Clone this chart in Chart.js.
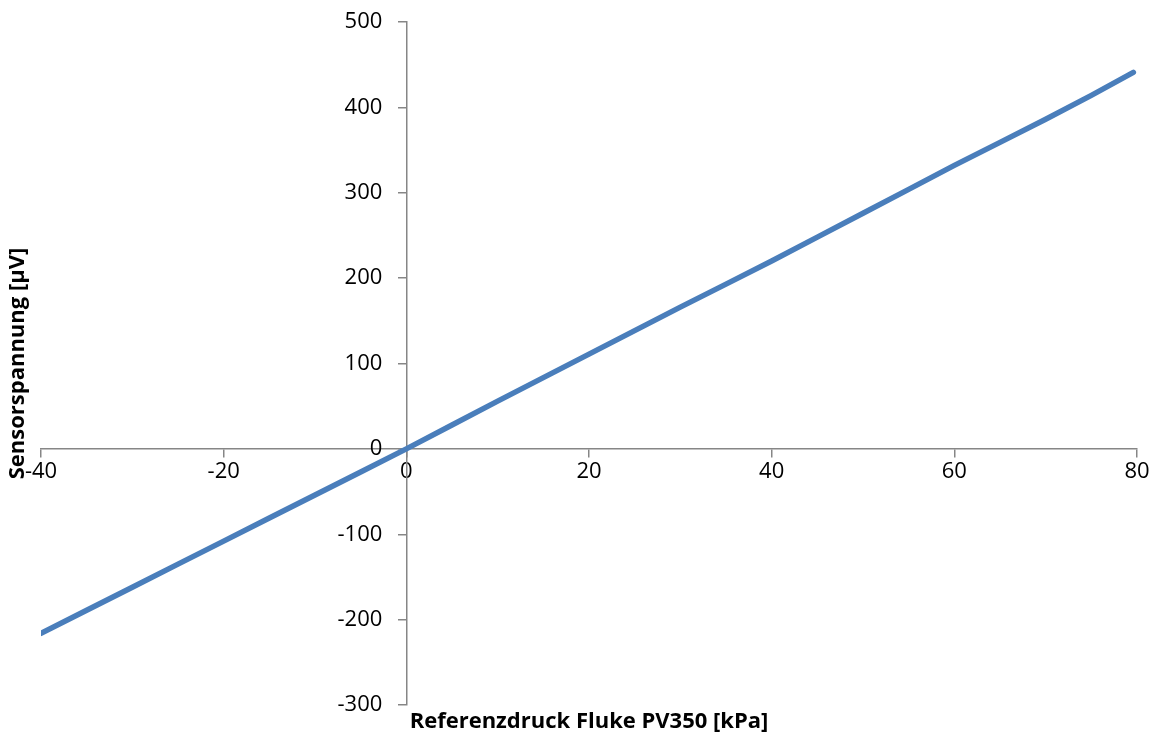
<!DOCTYPE html>
<html>
<head>
<meta charset="utf-8">
<script src="https://cdn.jsdelivr.net/npm/chart.js@4/dist/chart.umd.min.js"></script>
<style>
  html, body { margin: 0; padding: 0; background: #fff; }
  #wrap { width: 1159px; height: 738px; }
</style>
</head>
<body>
<div id="wrap"><canvas id="kennlinie"></canvas></div>
<script>
// Messwerte: Referenzdruck [kPa] gegen Sensorspannung [µV]
var druck = [-40, -35, -30, -25, -20, -15, -10, -5, 0, 5, 10, 15, 20, 25, 30, 35, 40, 45, 50, 55, 60, 65, 70, 75, 79.6];
var spannung = [-216, -189, -162, -135, -108, -81, -54, -27, 0, 28, 56, 83.5, 111, 138.5, 166, 193, 220, 248, 276, 304, 332, 359, 386, 414, 441];

var xTicks = [-40, -20, 0, 20, 40, 60, 80];
var yTicks = [-300, -200, -100, 0, 100, 200, 300, 400, 500];

var punkte = druck.map(function (d, i) { return { x: d, y: spannung[i] }; });

var achsenFarbe = '#868686';
var tickFont = { family: 'Open Sans', size: 22, lineHeight: 1 };
var titelFont = { family: 'Open Sans', size: 22, weight: 'bold', lineHeight: 1.2 };

// y-Beschriftung links neben die Achse schieben (Achse liegt bei x = 0)
function yLabelsVersetzen(axis) {
  if (axis._versetzt) return;
  var orig = axis._computeLabelItems;
  axis._computeLabelItems = function (area) {
    var items = orig.call(this, area);
    items.forEach(function (it) { it.options.translation[0] -= 24; });
    return items;
  };
  axis._versetzt = true;
}

var ctx = document.getElementById('kennlinie');

new Chart(ctx, {
  type: 'scatter',
  data: {
    datasets: [{
      label: 'Sensorspannung',
      data: punkte,
      showLine: true,
      borderColor: '#4a7ebb',
      backgroundColor: '#4a7ebb',
      borderWidth: 5.5,
      borderCapStyle: 'round',
      borderJoinStyle: 'round',
      pointRadius: 0,
      tension: 0
    }]
  },
  options: {
    responsive: true,
    maintainAspectRatio: false,
    animation: false,
    layout: { padding: { top: 22, right: 22, bottom: 0, left: 0 } },
    plugins: {
      legend: { display: false },
      tooltip: { enabled: false },
      title: {
        display: true,
        position: 'bottom',
        fullSize: false,
        text: 'Referenzdruck Fluke PV350 [kPa]',
        color: '#000',
        font: titelFont,
        padding: { top: 4, bottom: 2.6 }
      },
      subtitle: {
        display: true,
        position: 'left',
        fullSize: false,
        text: 'Sensorspannung [µV]',
        color: '#000',
        font: titelFont,
        padding: { top: 4.8, bottom: 9.8 }
      }
    },
    scales: {
      x: {
        type: 'linear',
        position: { y: 0 },
        min: -40,
        max: 80,
        afterBuildTicks: function (axis) {
          axis.ticks = xTicks.map(function (v) { return { value: v }; });
        },
        grid: { drawOnChartArea: false, drawTicks: true, tickLength: 8, color: achsenFarbe, lineWidth: 1.5 },
        border: { display: true, color: achsenFarbe, width: 1.5 },
        ticks: { color: '#000', font: tickFont, padding: 4, maxRotation: 0 }
      },
      y: {
        type: 'linear',
        position: { x: 0 },
        min: -300,
        max: 500,
        afterBuildTicks: function (axis) {
          axis.ticks = yTicks.map(function (v) { return { value: v }; });
        },
        afterUpdate: yLabelsVersetzen,
        grid: { drawOnChartArea: false, drawTicks: true, tickLength: 8, color: achsenFarbe, lineWidth: 1.5 },
        border: { display: true, color: achsenFarbe, width: 1.5 },
        ticks: { color: '#000', font: tickFont }
      }
    }
  }
});
</script>
</body>
</html>
